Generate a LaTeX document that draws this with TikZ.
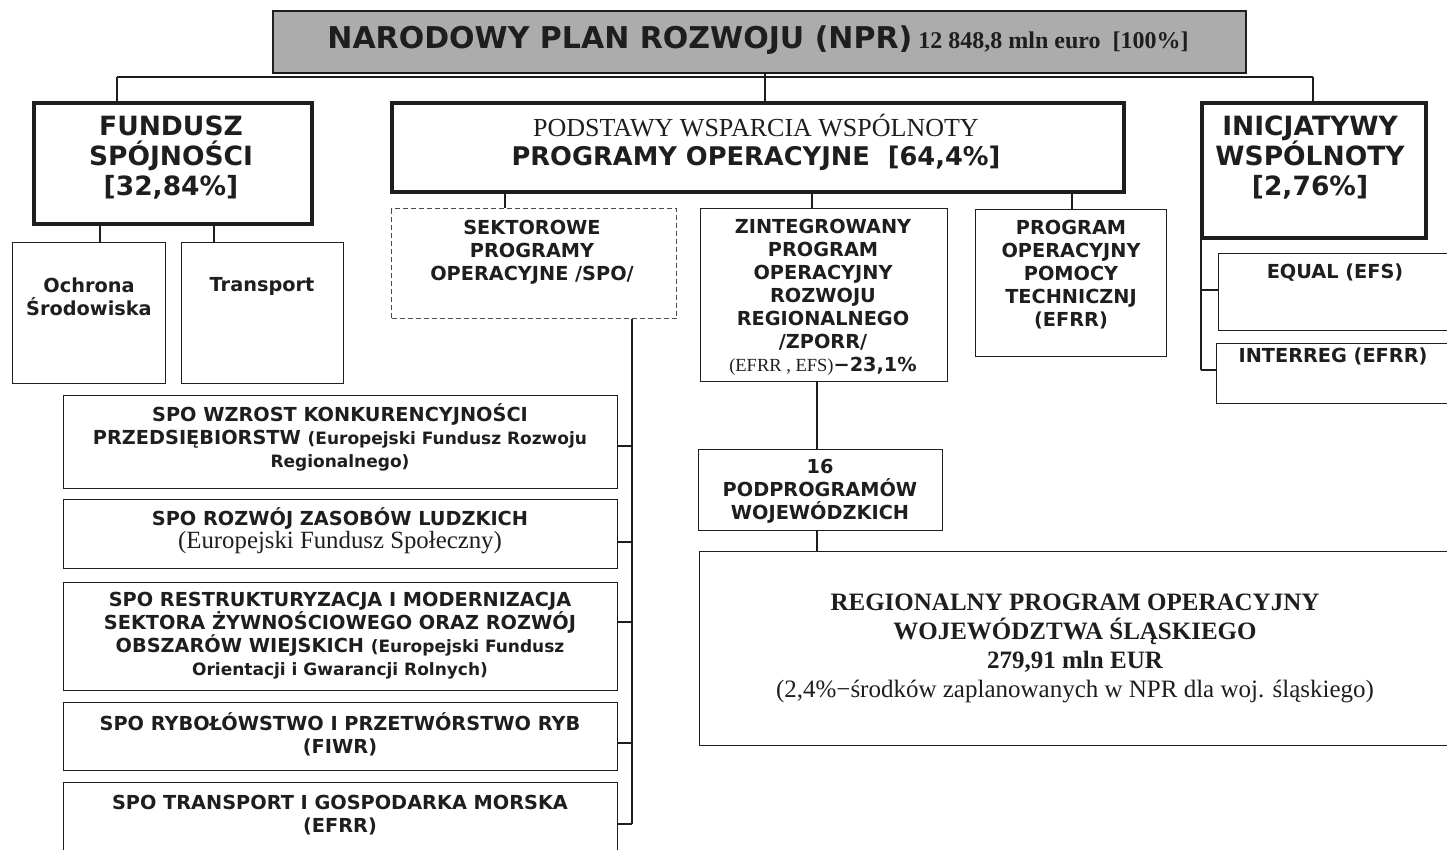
\documentclass[tikz,border=0pt]{standalone}
\usepackage{fontspec}
\setmainfont{Liberation Serif}
\setsansfont{DejaVu Sans}
\definecolor{ink}{HTML}{1E1E1E}
\definecolor{topfill}{HTML}{ACACAC}
\begin{document}
\begin{tikzpicture}[x=1pt,y=-1pt,
  sbox/.style={draw=ink, line width=1.3pt, rectangle, inner sep=0pt, anchor=north west},
  tbox/.style={draw=ink, line width=4pt, rectangle, inner sep=0pt, anchor=north west},
  dbox/.style={draw=ink!80, line width=1.2pt, dash pattern=on 5pt off 3pt, rectangle, inner sep=0pt, anchor=north west},
  conn/.style={draw=ink, line width=1.2pt},
  txt/.style={inner sep=0pt, align=center, text=ink},
  sb/.style={font=\sffamily\bfseries\fontsize{19.3}{23}\selectfont},
  bb/.style={font=\sffamily\bfseries\fontsize{26.5}{30}\selectfont},
  rb/.style={font=\rmfamily\bfseries\fontsize{25}{29}\selectfont},
]
\clip (0,0) rectangle (1447,849);
\fill[white] (0,0) rectangle (1447,849);

% boxes
\node[sbox, fill=topfill, line width=1.6pt, minimum width=973pt, minimum height=62pt] (top) at (272,10) {};
\node[tbox, minimum width=278pt, minimum height=121pt] (fund) at (32,101) {};
\node[tbox, minimum width=732pt, minimum height=89pt] (pww) at (390,101) {};
\node[tbox, minimum width=224pt, minimum height=135pt] (inic) at (1200,101) {};
\node[sbox, minimum width=153pt, minimum height=141pt] (och) at (12,242) {};
\node[sbox, minimum width=162pt, minimum height=141pt] (trans) at (181,242) {};
\node[dbox, minimum width=285pt, minimum height=110pt] (spo) at (391,208) {};
\node[sbox, minimum width=247pt, minimum height=173pt] (zporr) at (700,208) {};
\node[sbox, minimum width=191pt, minimum height=147pt] (pop) at (975,209) {};
\node[sbox, minimum width=260pt, minimum height=77pt] (equal) at (1218,253) {};
\node[sbox, minimum width=262pt, minimum height=60pt] (interreg) at (1216,343) {};
\node[sbox, minimum width=554pt, minimum height=93pt] (spo1) at (63,395) {};
\node[sbox, minimum width=554pt, minimum height=69pt] (spo2) at (63,499) {};
\node[sbox, minimum width=554pt, minimum height=108pt] (spo3) at (63,582) {};
\node[sbox, minimum width=554pt, minimum height=68pt] (spo4) at (63,702) {};
\node[sbox, minimum width=554pt, minimum height=80pt] (spo5) at (63,782) {};
\node[sbox, minimum width=244pt, minimum height=81pt] (p16) at (698,449) {};
\node[sbox, minimum width=780pt, minimum height=194pt] (rpo) at (699,551) {};

% connector coordinates
\coordinate (hubL) at (117,77);
\coordinate (hubR) at (1313,77);
\coordinate (xc) at (765,0);
\coordinate (x100) at (100,0);
\coordinate (x214) at (214,0);
\coordinate (x505) at (505,0);
\coordinate (x812) at (812,0);
\coordinate (x1072) at (1072,0);
\coordinate (x817) at (817,0);
\coordinate (s1) at (632,446);
\coordinate (s2) at (632,542);
\coordinate (s3) at (632,622);
\coordinate (s4) at (632,743);
\coordinate (s5) at (632,824);
\coordinate (iq) at (1201,290);
\coordinate (ir) at (1201,370);

% connectors
\draw[conn] (hubL) -- (hubR);
\draw[conn] (top.south -| xc) -- (pww.north -| xc);
\draw[conn] (hubL) -- (hubL |- fund.north);
\draw[conn] (hubR) -- (hubR |- inic.north);
\draw[conn] (fund.south -| x100) -- (och.north -| x100);
\draw[conn] (fund.south -| x214) -- (trans.north -| x214);
\draw[conn] (pww.south -| x505) -- (spo.north -| x505);
\draw[conn] (pww.south -| x812) -- (zporr.north -| x812);
\draw[conn] (pww.south -| x1072) -- (pop.north -| x1072);
\draw[conn] (spo.south -| s1) -- (s5);
\draw[conn] (s1) -- (s1 -| spo1.east);
\draw[conn] (s2) -- (s2 -| spo2.east);
\draw[conn] (s3) -- (s3 -| spo3.east);
\draw[conn] (s4) -- (s4 -| spo4.east);
\draw[conn] (s5) -- (s5 -| spo5.east);
\draw[conn] (inic.south -| iq) -- (ir);
\draw[conn] (iq) -- (iq -| equal.west);
\draw[conn] (ir) -- (ir -| interreg.west);
\draw[conn] (zporr.south -| x817) -- (p16.north -| x817);
\draw[conn] (p16.south -| x817) -- (rpo.north -| x817);

% texts
\node[txt, font=\fontsize{24}{28}\selectfont] (ttl) at (758,40) {{\sffamily\bfseries\fontsize{30}{34}\selectfont NARODOWY PLAN ROZWOJU (NPR)}\ {\rmfamily\bfseries\fontsize{24}{28}\selectfont 12 848,8 mln euro\ \ [100\%]}};
\node[txt, bb] (tfund) at (171,158) {FUNDUSZ\\SPÓJNOŚCI\\{}[32,84\%]};
\node[txt, font=\sffamily\bfseries\fontsize{25.7}{29}\selectfont] (tpww) at (756,142) {{\rmfamily\mdseries\fontsize{26}{29}\selectfont PODSTAWY WSPARCIA WSPÓLNOTY}\\PROGRAMY OPERACYJNE\ \ [64,4\%]};
\node[txt, bb] (tinic) at (1310,158) {INICJATYWY\\WSPÓLNOTY\\{}[2,76\%]};
\node[txt, sb] (toch) at (89,297) {Ochrona\\Środowiska};
\node[txt, sb] (ttrans) at (262,286) {Transport};
\node[txt, sb] (tspo) at (532,252) {SEKTOROWE\\PROGRAMY\\OPERACYJNE /SPO/};
\node[txt, sb] (tzporr) at (823,297) {ZINTEGROWANY\\PROGRAM\\OPERACYJNY\\ROZWOJU\\REGIONALNEGO\\/ZPORR/\\{\rmfamily\mdseries\fontsize{18.5}{20}\selectfont (EFRR , EFS)}−23,1\%};
\node[txt, sb] (tpop) at (1071,275) {PROGRAM\\OPERACYJNY\\POMOCY\\TECHNICZNJ\\(EFRR)};
\node[txt, sb] (tequal) at (1335,273) {EQUAL (EFS)};
\node[txt, sb] (tinterreg) at (1333,356) {INTERREG (EFRR)};
\node[txt, sb] (tspo1) at (340,437) {SPO WZROST KONKURENCYJNOŚCI\\PRZEDSIĘBIORSTW {\fontsize{17}{20}\selectfont (Europejski Fundusz Rozwoju}\\{\fontsize{17}{20}\selectfont Regionalnego)}};
\node[txt, sb] (tspo2) at (340,531) {SPO ROZWÓJ ZASOBÓW LUDZKICH\\{\rmfamily\mdseries\fontsize{24.8}{26}\selectfont (Europejski Fundusz Społeczny)}};
\node[txt, sb] (tspo3) at (340,636) {SPO RESTRUKTURYZACJA I MODERNIZACJA\\SEKTORA ŻYWNOŚCIOWEGO ORAZ ROZWÓJ\\OBSZARÓW WIEJSKICH {\fontsize{17}{20}\selectfont (Europejski Fundusz}\\{\fontsize{17}{20}\selectfont Orientacji i Gwarancji Rolnych)}};
\node[txt, sb] (tspo4) at (340,734) {SPO RYBOŁÓWSTWO I PRZETWÓRSTWO RYB\\(FIWR)};
\node[txt, sb] (tspo5) at (340,815) {SPO TRANSPORT I GOSPODARKA MORSKA\\(EFRR)};
\node[txt, sb] (tp16) at (820,491) {16\\PODPROGRAMÓW\\WOJEWÓDZKICH};
\node[txt, rb] (trpo) at (1075,648) {REGIONALNY PROGRAM OPERACYJNY\\WOJEWÓDZTWA ŚLĄSKIEGO\\279,91 mln EUR\\{\mdseries\fontsize{25}{29}\selectfont (2,4\%−środków zaplanowanych w NPR dla woj. śląskiego)}};
\end{tikzpicture}
\end{document}
